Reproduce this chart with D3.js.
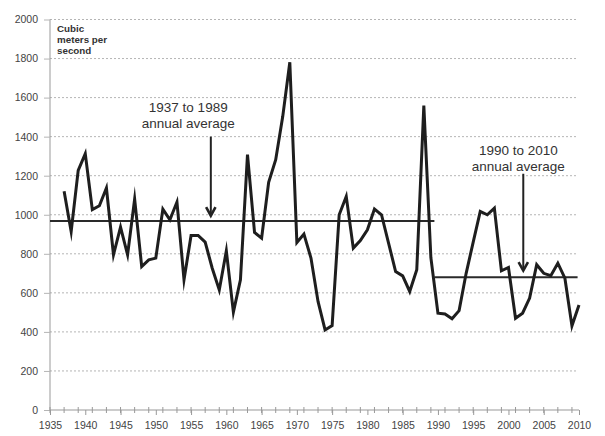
<!DOCTYPE html>
<html>
<head>
<meta charset="utf-8">
<script src="https://cdn.jsdelivr.net/npm/d3@7"></script>
<style>
  html, body { margin: 0; padding: 0; background: #fff; }
  svg { display: block; }
</style>
</head>
<body>
<script>
// ---- Data ----
const years = d3.range(1937, 2011);
const flow = [
  1120, 914, 1227, 1313, 1026, 1046, 1137, 795, 937, 795,   // 1937-1946
  1080, 735, 769, 778, 1029, 974, 1065, 667, 894, 894,      // 1947-1956
  860, 726, 615, 815, 501, 667, 1308, 909, 880, 1166,       // 1957-1966
  1282, 1504, 1781, 858, 901, 778, 556, 410, 432, 1000,     // 1967-1976
  1094, 829, 868, 923, 1029, 1000, 855, 709, 687, 607,      // 1977-1986
  718, 1559, 780, 496, 492, 467, 509, 700, 860, 1017,       // 1987-1996
  1000, 1034, 713, 730, 470, 496, 573, 744, 700, 688,       // 1997-2006
  752, 675, 431, 538                                        // 2007-2010
];
const avgLabels = ["1937 to 1989", "1990 to 2010"];
const avgValues = [968, 680];
const avgFrom = [1935, 1989.5];
const avgTo = [1989.5, 2009.8];
const arrowYear = [1957.8, 2002.1];
const arrowTop = [1400, 1210];
const arrowTip = [995, 714];
const labelYear = [1954.6, 2001.4];
const labelValue = [1525, 1305];
const yTicks = d3.range(0, 2001, 200);
const xLabelTicks = d3.range(1935, 2011, 5);
const xMinorTicks = d3.range(1935, 2011, 2);
const unitLines = ["Cubic", "meters per", "second"];

// ---- Layout ----
const W = 605, H = 436;
const svg = d3.select("body").append("svg").attr("width", W).attr("height", H);
const x = d3.scaleLinear().domain([1935, 2010]).range([50, 579]);
const y = d3.scaleLinear().domain([0, 2000]).range([410, 19.5]);
const font = "'Liberation Sans', Arial, sans-serif";

// gridlines
svg.append("g").selectAll("line").data(yTicks.filter(d => d > 0)).join("line")
  .attr("x1", x(1935)).attr("x2", x(2010) - 1)
  .attr("y1", d => y(d)).attr("y2", d => y(d))
  .attr("stroke", "#b5b5b5").attr("stroke-width", 1)
  .attr("stroke-dasharray", "2,2");

// y axis
const yAxis = svg.append("g").attr("transform", `translate(${x(1935)},0)`)
  .call(d3.axisLeft(y).tickValues(yTicks).tickSize(6).tickPadding(6).tickFormat(d3.format("d")));
yAxis.select(".domain").attr("stroke", "#999").attr("d", `M0,${y(0)}V${y(2000)}`);
yAxis.selectAll(".tick line").attr("stroke", "#b5b5b5");
yAxis.selectAll("text").attr("font-family", font).attr("font-size", "10.5px").attr("fill", "#444");

// x axis
const xAxis = svg.append("g").attr("transform", `translate(0,${y(0)})`)
  .call(d3.axisBottom(x).tickValues(xLabelTicks).tickSize(5).tickPadding(7).tickFormat(d3.format("d")));
xAxis.select(".domain").attr("stroke", "#999").attr("d", `M${x(1935)},0H${x(2010)}`);
xAxis.selectAll(".tick line").attr("stroke", "#999");
xAxis.selectAll("text").attr("font-family", font).attr("font-size", "10.5px").attr("fill", "#444");
svg.append("g").selectAll("line").data(xMinorTicks).join("line")
  .attr("x1", d => x(d)).attr("x2", d => x(d))
  .attr("y1", y(0) - 3).attr("y2", y(0) + 3)
  .attr("stroke", "#999").attr("stroke-width", 1);

// average lines
svg.append("g").selectAll("line").data(avgValues).join("line")
  .attr("x1", (d, i) => x(avgFrom[i])).attr("x2", (d, i) => x(avgTo[i]))
  .attr("y1", d => y(d)).attr("y2", d => y(d))
  .attr("stroke", "#2a2a2a").attr("stroke-width", 2);

// data line
const line = d3.line().x((d, i) => x(years[i])).y(d => y(d));
svg.append("path").datum(flow)
  .attr("d", line)
  .attr("fill", "none").attr("stroke", "#1e1e1e").attr("stroke-width", 3)
  .attr("stroke-linejoin", "miter").attr("stroke-miterlimit", 10);

// arrows
arrowYear.forEach((yr, i) => {
  const ax = x(yr), t = y(arrowTop[i]), b = y(arrowTip[i]);
  svg.append("line").attr("x1", ax).attr("x2", ax).attr("y1", t).attr("y2", b - 1)
    .attr("stroke", "#222").attr("stroke-width", 2);
  svg.append("path")
    .attr("d", `M${ax - 4.7},${b - 8.5}L${ax},${b}L${ax + 4.7},${b - 8.5}`)
    .attr("fill", "none").attr("stroke", "#222").attr("stroke-width", 2.6)
    .attr("stroke-linejoin", "miter");
});

// annotation labels
avgLabels.forEach((lab, i) => {
  const t = svg.append("text")
    .attr("x", x(labelYear[i])).attr("y", y(labelValue[i]))
    .attr("text-anchor", "middle")
    .attr("font-family", font).attr("font-size", "13.5px").attr("fill", "#333");
  t.append("tspan").attr("x", x(labelYear[i])).attr("dy", 0).text(lab);
  t.append("tspan").attr("x", x(labelYear[i])).attr("dy", 16).text("annual average");
});

// unit label
const u = svg.append("text").attr("x", 57).attr("y", 31.5)
  .attr("font-family", font).attr("font-size", "9.8px").attr("font-weight", "bold").attr("fill", "#333");
unitLines.forEach((s, i) => u.append("tspan").attr("x", 57).attr("dy", i === 0 ? 0 : 11.3).text(s));
</script>
</body>
</html>
